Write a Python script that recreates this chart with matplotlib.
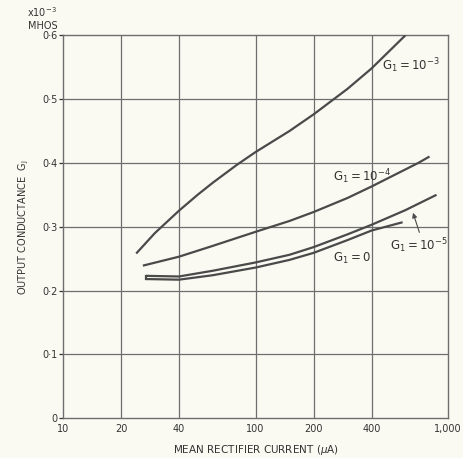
import matplotlib
matplotlib.use("Agg")
import matplotlib.pyplot as plt

# mean rectifier current (uA) and output conductance (x1e-3 mhos)
x_g3 = [24, 30, 40, 50, 60, 80, 100, 150, 200, 300, 400, 600]
y_g3 = [0.258, 0.290, 0.325, 0.350, 0.369, 0.397, 0.417, 0.450, 0.476, 0.516, 0.548, 0.600]

x_g4 = [26, 40, 60, 100, 150, 200, 300, 400, 700, 800]
y_g4 = [0.239, 0.253, 0.270, 0.292, 0.309, 0.323, 0.345, 0.363, 0.400, 0.410]

x_g5 = [27, 40, 60, 100, 150, 200, 300, 400, 600, 870]
y_g5 = [0.223, 0.222, 0.231, 0.244, 0.256, 0.268, 0.288, 0.303, 0.326, 0.350]

x_g0 = [27, 40, 60, 100, 150, 200, 300, 400, 580]
y_g0 = [0.218, 0.217, 0.224, 0.236, 0.248, 0.259, 0.279, 0.294, 0.307]

xticks = [10, 20, 40, 100, 200, 400, 1000]
xticklabels = ["10", "20", "40", "100", "200", "400", "1,000"]
yticks = [0, 0.1, 0.2, 0.3, 0.4, 0.5, 0.6]
yticklabels = ["0", "0·1", "0·2", "0·3", "0·4", "0·5", "0·6"]

bg = "#fafaf3"
ink = "#4a4a4a"
grid = "#6e6e6e"

fig = plt.figure(figsize=(4.63, 4.58), dpi=100, facecolor=bg)
ax = fig.add_axes([0.136, 0.087, 0.832, 0.836], facecolor=bg)

ax.set_xscale("log")
ax.set_xlim(10, 1000)
ax.set_ylim(0, 0.6)

for xv in xticks[1:-1]:
    ax.axvline(xv, color=grid, lw=0.9, zorder=1)
for yv in yticks[1:-1]:
    ax.axhline(yv, color=grid, lw=0.9, zorder=1)

# the two lowest curves share a small bracket at their start
ax.plot([x_g5[0], x_g0[0]], [y_g5[0], y_g0[0]], color=ink, lw=1.6, zorder=3)
for xs, ys in [(x_g3, y_g3), (x_g4, y_g4), (x_g5, y_g5), (x_g0, y_g0)]:
    ax.plot(xs, ys, color=ink, lw=1.6, solid_capstyle="butt", zorder=3)

ax.set_xticks(xticks)
ax.set_xticklabels(xticklabels)
ax.minorticks_off()
ax.set_yticks(yticks)
ax.set_yticklabels(yticklabels)
ax.tick_params(axis="x", length=0, pad=4, labelsize=7, colors="#333333")
ax.tick_params(axis="y", length=3, width=0.9, pad=1, labelsize=7,
               colors="#333333")
for s in ax.spines.values():
    s.set_color(grid)
    s.set_linewidth(1.0)

lab = dict(fontsize=8.5, color="#333333", ha="left", va="center", zorder=4)
ax.text(454, 0.552, r"$\mathregular{G_1 = 10^{-3}}$", **lab)
ax.text(253, 0.379, r"$\mathregular{G_1 = 10^{-4}}$", **lab)
ax.text(500, 0.270, r"$\mathregular{G_1 = 10^{-5}}$", **lab)
ax.text(253, 0.251, r"$\mathregular{G_1 = 0}$", **lab)
ax.annotate("", xy=(650, 0.326), xytext=(716, 0.287),
            arrowprops=dict(arrowstyle="-|>", color=ink, lw=0.8,
                            mutation_scale=7))

ax.set_xlabel(r"MEAN RECTIFIER CURRENT ($\mu$A)", fontsize=7.5,
              color="#333333", labelpad=7)
ax.set_ylabel(r"OUTPUT CONDUCTANCE  $\mathregular{G_J}$", fontsize=7,
              color="#333333", labelpad=8)

fig.text(0.091, 0.974, r"x$\mathregular{10^{-3}}$", fontsize=7,
         ha="center", va="center", color="#333333")
fig.text(0.093, 0.943, "MHOS", fontsize=7, ha="center", va="center",
         color="#333333")

fig.savefig("out.png", dpi=100, facecolor=bg)
